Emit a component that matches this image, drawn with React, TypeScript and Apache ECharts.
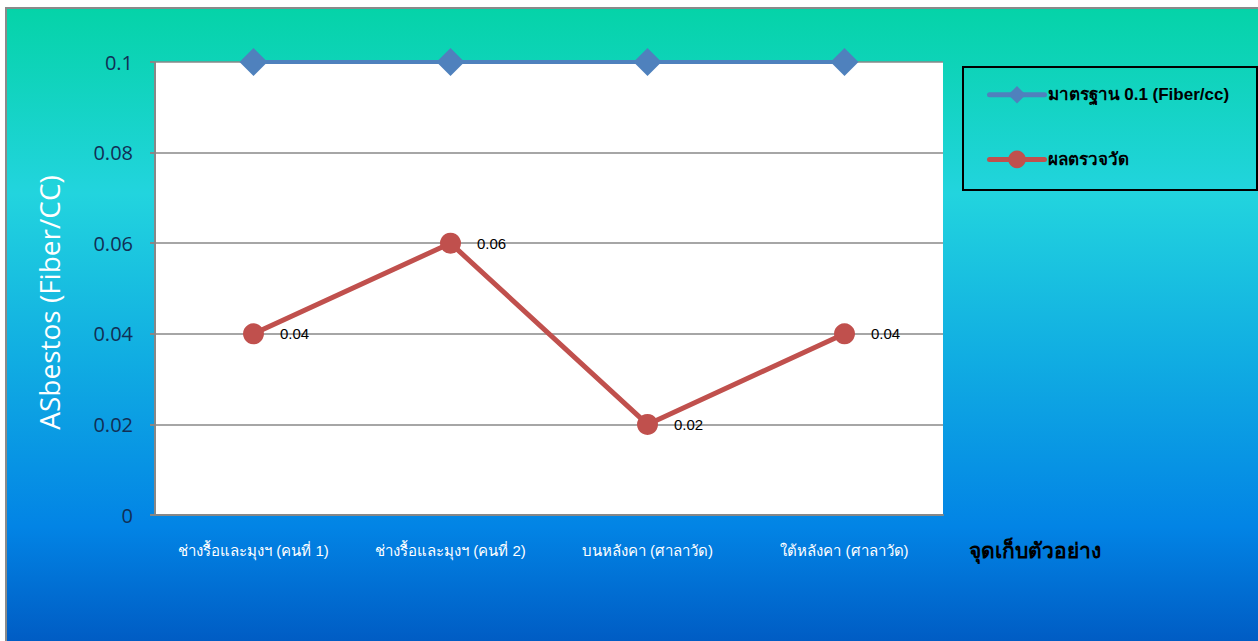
import React, { useEffect, useRef } from "react";
import * as echarts from "echarts";

const categories = [
  "ช่างรื้อและมุงฯ (คนที่ 1)",
  "ช่างรื้อและมุงฯ (คนที่ 2)",
  "บนหลังคา (ศาลาวัด)",
  "ใต้หลังคา (ศาลาวัด)",
];
const standardValues = [0.1, 0.1, 0.1, 0.1];
const measuredValues = [0.04, 0.06, 0.02, 0.04];
const standardName = "มาตรฐาน 0.1 (Fiber/cc)";
const measuredName = "ผลตรวจวัด";
const yAxisName = "ASbestos (Fiber/CC)";
const xAxisName = "จุดเก็บตัวอย่าง";

const THAI_FONT = '"Liberation Sans", Tahoma, "Noto Sans", "DejaVu Sans", sans-serif';
const NUM_FONT = '"Open Sans", "Noto Sans", sans-serif';
const ARIAL = '"Liberation Sans", Arial, sans-serif';

export default function App() {
  const ref = useRef<HTMLDivElement>(null);
  useEffect(() => {
    if (!ref.current) return;
    const chart = echarts.init(ref.current, null, { renderer: "svg" });
    chart.setOption({
      animation: false,
      graphic: [
        {
          type: "rect",
          z: -10,
          silent: true,
          shape: { x: 6, y: 8, width: 1260, height: 640 },
          style: {
            fill: new echarts.graphic.LinearGradient(0, 0, 0, 1, [
              { offset: 0, color: "#05d3a8" },
              { offset: 0.29, color: "#22d4de" },
              { offset: 0.54, color: "#11aee2" },
              { offset: 0.81, color: "#0284e5" },
              { offset: 1, color: "#005ac2" },
            ]),
            stroke: "#8a8a8a",
            lineWidth: 2,
          },
        },
        {
          type: "rect",
          z: -5,
          silent: true,
          shape: { x: 963, y: 67, width: 294, height: 123 },
          style: { fill: "none", stroke: "#000", lineWidth: 2 },
        },
        {
          type: "text",
          x: 969,
          y: 550,
          style: {
            text: xAxisName,
            fill: "#000",
            font: `bold 21px ${THAI_FONT}`,
            verticalAlign: "middle",
          },
        },
      ],
      legend: {
        orient: "vertical",
        left: 987,
        top: 86,
        padding: 0,
        itemWidth: 55,
        itemHeight: 22,
        itemGap: 47,
        textStyle: {
          fontFamily: THAI_FONT,
          fontSize: 17,
          fontWeight: "bold",
          color: "#000",
          padding: [0, 0, 0, -2],
        },
        data: [
          { name: standardName, lineStyle: { width: 5, cap: "round" } },
          { name: measuredName, lineStyle: { width: 5, cap: "round" } },
        ],
      },
      grid: {
        left: 155,
        top: 62,
        width: 788,
        height: 453,
        show: true,
        backgroundColor: "#fff",
        borderWidth: 0,
      },
      xAxis: {
        type: "category",
        data: categories,
        boundaryGap: true,
        axisLine: { lineStyle: { color: "#878787", width: 2 } },
        axisTick: { length: 5, lineStyle: { color: "#878787", width: 2 } },
        axisLabel: {
          color: "#fff",
          fontSize: 15,
          fontFamily: THAI_FONT,
          margin: 28,
          interval: 0,
        },
      },
      yAxis: {
        type: "value",
        min: 0,
        max: 0.1,
        interval: 0.02,
        name: yAxisName,
        nameLocation: "middle",
        nameRotate: 90,
        nameGap: 92,
        nameTextStyle: {
          color: "#fff",
          fontSize: 28,
          fontFamily: NUM_FONT,
          padding: [0, 28, 0, 0],
        },
        axisLine: { show: true, lineStyle: { color: "#878787", width: 2 } },
        axisTick: { show: true, length: 5, lineStyle: { color: "#878787", width: 2 } },
        axisLabel: {
          color: "#112f55",
          fontSize: 20,
          fontFamily: NUM_FONT,
          margin: 22,
        },
        splitLine: { lineStyle: { color: "#898989", width: 1.5 } },
      },
      series: [
        {
          name: standardName,
          type: "line",
          data: standardValues,
          symbol: "diamond",
          symbolSize: 28,
          z: 5,
          lineStyle: { color: "#4f81bd", width: 4 },
          itemStyle: { color: "#4f81bd" },
        },
        {
          name: measuredName,
          type: "line",
          data: measuredValues,
          symbol: "circle",
          symbolSize: 21,
          z: 4,
          lineStyle: { color: "#c0504d", width: 5 },
          itemStyle: { color: "#c0504d" },
          label: {
            show: true,
            position: "right",
            distance: 16,
            color: "#000",
            fontSize: 15,
            fontFamily: ARIAL,
          },
        },
      ],
    });
    return () => chart.dispose();
  }, []);
  return (
    <div
      ref={ref}
      style={{ position: "absolute", left: 0, top: 0, width: 1258, height: 641 }}
    />
  );
}
